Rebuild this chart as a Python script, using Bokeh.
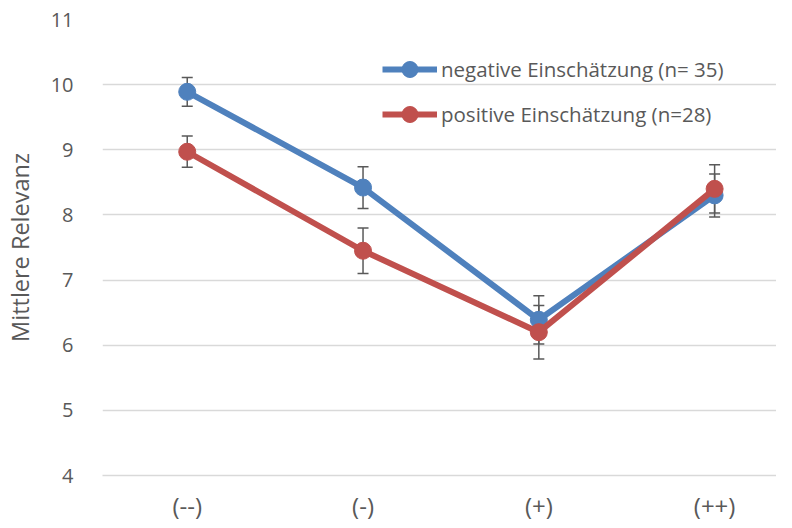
from bokeh.plotting import figure
from bokeh.models import ColumnDataSource, Whisker, TeeHead, Legend, LegendItem, Range1d, FixedTicker
from bokeh.embed import file_html
from bokeh.resources import INLINE

categories = ["(--)", "(-)", "(+)", "(++)"]
neg_mean = [9.89, 8.42, 6.39, 8.30]
neg_err = [0.22, 0.32, 0.37, 0.33]
pos_mean = [8.97, 7.45, 6.20, 8.40]
pos_err = [0.24, 0.35, 0.41, 0.37]
neg_label = "negative Einschätzung (n= 35)"
pos_label = "positive Einschätzung (n=28)"
y_ticks = [4, 5, 6, 7, 8, 9, 10, 11]

FONT = "Open Sans"
TXT = "#595959"
BLUE = "#4F81BD"
RED = "#C0504D"

xs = list(range(len(categories)))

p = figure(width=776, height=524, output_backend="svg", toolbar_location=None,
           x_range=Range1d(-0.482, 3.352), y_range=Range1d(4, 11),
           min_border_left=100, min_border_right=0, min_border_top=19, min_border_bottom=36)
p.outline_line_color = None
p.background_fill_color = "white"

p.xgrid.grid_line_color = None
p.ygrid.grid_line_color = "#D9D9D9"
p.ygrid.grid_line_width = 1.3
p.ygrid.ticker = FixedTicker(ticks=y_ticks)

p.yaxis.ticker = FixedTicker(ticks=y_ticks)
p.yaxis.axis_line_color = None
p.yaxis.major_tick_line_color = None
p.yaxis.minor_tick_line_color = None
p.yaxis.major_label_text_font = FONT
p.yaxis.major_label_text_font_size = "20px"
p.yaxis.major_label_text_color = TXT
p.yaxis.major_label_standoff = 23
p.yaxis.axis_label = "Mittlere Relevanz"
p.yaxis.axis_label_text_font = FONT
p.yaxis.axis_label_text_font_size = "23.5px"
p.yaxis.axis_label_text_font_style = "normal"
p.yaxis.axis_label_text_color = TXT
p.yaxis.axis_label_standoff = 12

p.xaxis.ticker = FixedTicker(ticks=xs)
p.xaxis.major_label_overrides = {i: c for i, c in enumerate(categories)}
p.xaxis.axis_line_color = "#D9D9D9"
p.xaxis.axis_line_width = 1.3
p.xaxis.major_tick_line_color = None
p.xaxis.minor_tick_line_color = None
p.xaxis.major_label_text_font = FONT
p.xaxis.major_label_text_font_size = "24px"
p.xaxis.major_label_text_color = TXT
p.xaxis.major_label_standoff = 7

def add_errors(mean, err):
    src = ColumnDataSource(dict(x=xs, lo=[m - e for m, e in zip(mean, err)],
                                hi=[m + e for m, e in zip(mean, err)]))
    w = Whisker(source=src, base="x", lower="lo", upper="hi", line_color="#595959", line_width=1.5,
                upper_head=TeeHead(size=11, line_color="#595959", line_width=1.5),
                lower_head=TeeHead(size=11, line_color="#595959", line_width=1.5))
    p.add_layout(w)

add_errors(neg_mean, neg_err)
add_errors(pos_mean, pos_err)

items = []
for mean, color, label in [(neg_mean, BLUE, neg_label), (pos_mean, RED, pos_label)]:
    src = ColumnDataSource(dict(x=xs, y=mean))
    ln = p.line("x", "y", source=src, line_color=color, line_width=6)
    sc = p.scatter("x", "y", source=src, size=17, fill_color=color, line_color=color)
    items.append(LegendItem(label=label, renderers=[ln, sc]))

legend = Legend(items=items, location=(280, 341), orientation="vertical",
                glyph_width=55, glyph_height=40, spacing=5, label_standoff=4,
                label_text_font=FONT, label_text_font_size="20.5px", label_text_color=TXT,
                background_fill_alpha=0, border_line_color=None, padding=0, margin=0)
p.add_layout(legend)

open("out.html", "w").write(file_html(p, INLINE))
